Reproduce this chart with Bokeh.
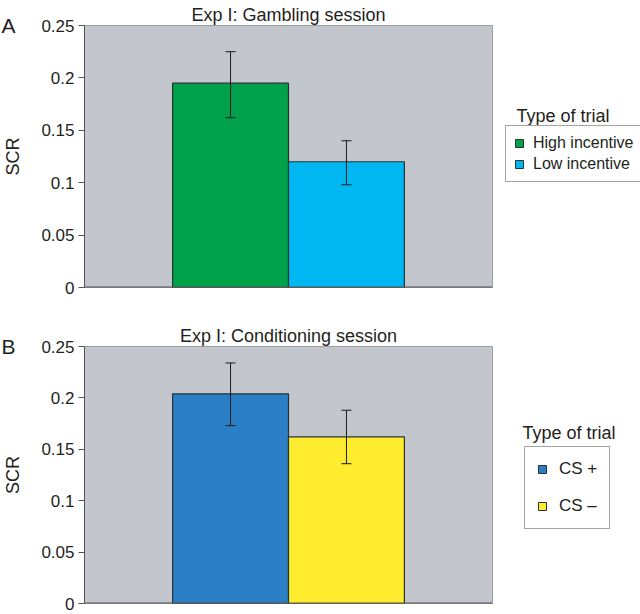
import math
from bokeh.plotting import figure
from bokeh.models import (ColumnDataSource, FactorRange, Range1d, FixedTicker, Whisker,
                          TeeHead, Legend, LegendItem, Label, LinearAxis, Span)
from bokeh.layouts import column, row
from bokeh.embed import file_html
from bokeh.resources import INLINE

# ---- data ----
panel_titles = ["Exp I: Gambling session", "Exp I: Conditioning session"]
panel_letters = ["A", "B"]
categories_A = ["High incentive", "Low incentive"]
means_A = [0.195, 0.120]
upper_A = [0.225, 0.140]
lower_A = [0.162, 0.098]
colors_A = ["#00a14b", "#00b7f1"]

categories_B = ["CS +", "CS \u2013"]
means_B = [0.204, 0.162]
upper_B = [0.234, 0.188]
lower_B = [0.173, 0.136]
colors_B = ["#2a7fc6", "#ffec2e"]

tick_values = [0, 0.05, 0.1, 0.15, 0.2, 0.25]
tick_labels = ["0", "0.05", "0.1", "0.15", "0.2", "0.25"]
legend_title = "Type of trial"
y_label = "SCR"

FONT = "Liberation Sans"
TXT = "#231f20"
BAR_LINE = "#25342f"
AXIS = "#555555"
MW = 494     # main figure width
GW = 146     # legend strip width
FW = 408     # frame width


def make_panel(title, letter, cats, means, up, lo, colors, height, top_border, bottom_border, leg):
    y_end = tick_values[-1]
    p = figure(width=MW, height=height, output_backend="svg", toolbar_location=None,
               x_range=FactorRange(factors=cats, range_padding=0.76, range_padding_units="absolute"),
               y_range=Range1d(0, y_end), x_axis_location=None,
               min_border_left=MW - FW - 2, min_border_right=2,
               min_border_top=top_border, min_border_bottom=bottom_border)
    p.background_fill_color = "#c3c6cc"
    p.border_fill_color = "white"
    p.outline_line_color = "#9a9da3"
    p.outline_line_width = 1
    p.grid.visible = False

    p.title.text = title
    p.title.align = "center"
    p.title.text_font = FONT
    p.title.text_font_size = "18px"
    p.title.text_font_style = "normal"
    p.title.text_color = TXT
    p.title.standoff = 2

    src = ColumnDataSource(dict(cat=cats, top=means, up=up, lo=lo, color=colors))
    p.vbar(x="cat", top="top", width=1.0, source=src, fill_color="color",
           line_color=BAR_LINE, line_width=1.2)
    w = Whisker(base="cat", upper="up", lower="lo", source=src, level="overlay",
                line_color="#1a1a1a", line_width=1,
                upper_head=TeeHead(size=10, line_color="#1a1a1a", line_width=1),
                lower_head=TeeHead(size=10, line_color="#1a1a1a", line_width=1))
    p.add_layout(w)
    # x axis line along the bottom of the plot area
    p.add_layout(Span(location=0, dimension="width", line_color=AXIS, line_width=2, level="overlay"))

    ya = p.yaxis[0]
    ya.ticker = FixedTicker(ticks=tick_values)
    ya.major_label_overrides = {v: s_ for v, s_ in zip(tick_values, tick_labels)}
    ya.minor_tick_line_color = None
    ya.major_tick_in = 0
    ya.major_tick_out = 6
    ya.major_label_standoff = 4
    ya.axis_line_color = AXIS
    ya.major_tick_line_color = AXIS
    ya.major_label_text_font = FONT
    ya.major_label_text_font_size = "17px"
    ya.major_label_text_color = TXT

    # outer axis: carries the panel letter (at the top) and the "SCR" title
    oa = LinearAxis(ticker=FixedTicker(ticks=[y_end]), major_label_overrides={y_end: letter},
                    axis_line_color=None, major_tick_line_color=None, minor_tick_line_color=None,
                    major_label_standoff=17, major_label_text_font=FONT,
                    major_label_text_font_size="21px", major_label_text_color=TXT,
                    axis_label=y_label, axis_label_text_font=FONT, axis_label_text_font_size="18px",
                    axis_label_text_font_style="normal", axis_label_text_color=TXT,
                    axis_label_standoff=-25)
    p.add_layout(oa, "left")

    # legend strip
    g = figure(width=GW, height=height, output_backend="svg", toolbar_location=None,
               x_range=Range1d(0, 1), y_range=Range1d(0, 1),
               x_axis_location=None, y_axis_location=None,
               min_border_left=0, min_border_right=0,
               min_border_top=top_border, min_border_bottom=bottom_border)
    g.outline_line_color = None
    g.grid.visible = False
    g.background_fill_color = "white"
    g.border_fill_color = "white"
    items = []
    for c, col in zip(cats, colors):
        r = g.vbar(x=[math.nan], top=[math.nan], width=1, fill_color=col,
                   line_color=BAR_LINE, line_width=1)
        items.append(LegendItem(label=c, renderers=[r]))
    lg = Legend(items=items, location=(leg["x"], leg["y"]), orientation="vertical",
                label_text_font=FONT, label_text_font_size=leg["fs"], label_text_color=TXT,
                glyph_width=10, glyph_height=10, label_height=leg["lh"],
                label_standoff=leg["standoff"],
                spacing=leg["spacing"], padding=leg["padding"], margin=0,
                border_line_color="#4a4a4a", border_line_width=1,
                background_fill_color="white", background_fill_alpha=1)
    g.add_layout(lg)
    g.add_layout(Label(x=leg["tx"], y=leg["ty"], x_units="screen", y_units="screen",
                       text=legend_title, text_font=FONT, text_font_size="18px",
                       text_color=TXT, text_align="left", text_baseline="middle"))
    return row(p, g, spacing=0)


legA = dict(x=11, y=105, fs="16px", lh=18, standoff=9, spacing=3, padding=8, tx=22, ty=172)
legB = dict(x=30, y=74, fs="17px", lh=20, standoff=12, spacing=17, padding=12, tx=28, ty=171)

pA = make_panel(panel_titles[0], panel_letters[0], categories_A, means_A, upper_A, lower_A,
                colors_A, height=300, top_border=25, bottom_border=13, leg=legA)
pB = make_panel(panel_titles[1], panel_letters[1], categories_B, means_B, upper_B, lower_B,
                colors_B, height=314, top_border=46, bottom_border=11, leg=legB)

layout = column(pA, pB, spacing=0)
open("out.html", "w").write(file_html(layout, INLINE))
